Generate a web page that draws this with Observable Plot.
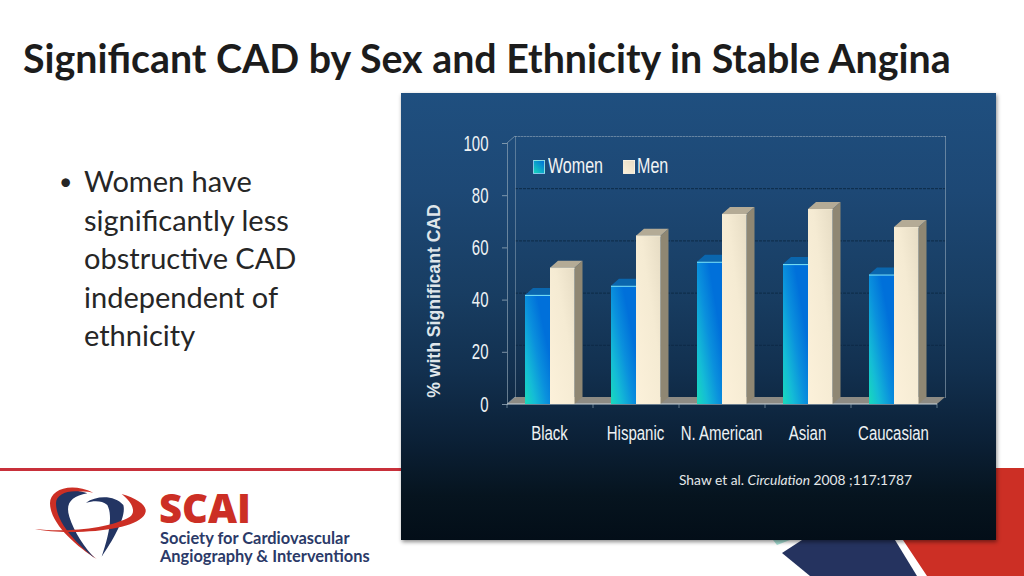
<!DOCTYPE html>
<html><head><meta charset="utf-8">
<script src="https://cdn.jsdelivr.net/npm/d3@7"></script>
<script src="https://cdn.jsdelivr.net/npm/@observablehq/plot@0.6"></script>
<style>
html,body{margin:0;padding:0;background:#fff;width:1024px;height:576px;overflow:hidden;font-family:Lato,"Open Sans",sans-serif}
#slide{position:relative;width:1024px;height:576px;overflow:hidden}
#slide>*{position:absolute}
#title{left:23px;top:35px;font:700 39.35px/46px Lato;color:#1c1c1c;white-space:nowrap}
#bullets{left:59px;top:162px;width:260px;font:400 29px/38.5px Lato;color:#262626}
#bullets .dot{position:absolute;left:0;top:0;font-size:23px}
#bullets .txt{margin-left:25px}
#chart{left:401px;top:93px;width:595px;height:447px;box-shadow:1px 2px 4px rgba(0,0,0,.45)}
#chart svg{display:block}
#decor{left:0;top:0}
.lg{color:#f2f4f4;font:400 22px/24px "Liberation Sans";white-space:nowrap;transform:scaleX(.73);transform-origin:0 0}
.sw{width:10px;height:12px;border:1px solid rgba(255,255,255,.5);box-sizing:content-box}
#cite{left:679px;top:471px;font:400 13.8px/18px Lato;color:#e4e8ea;white-space:nowrap}
</style></head><body>
<div id="slide">
<svg id="decor" width="1024" height="576">
  <rect x="0" y="468" width="401" height="3" fill="#c8303a"/>
  <rect x="996" y="468" width="28" height="3" fill="#c8303a"/>
  <polygon points="996,468 1024,468 1024,576 927,576 903,540 996,540" fill="#cc2f25"/>
  <polygon points="782,553 802,540 895,540 917,576 810,576" fill="#25335f"/>
  <polygon points="773,540 790,540 777,545" fill="#a7e0d5"/>
  <g transform="translate(0,460) scale(.3333)">
    <path d="M150,130C150,90 210,65 280,98C220,85 180,110 195,170C210,220 250,265 290,297C230,260 150,190 150,130Z" fill="#cc2f25"/>
    <path d="M168,130C168,100 215,85 262,100C215,108 195,130 208,170C222,215 255,265 285,295C235,255 168,190 168,130Z" fill="#233563"/>
    <path d="M258,128C290,105 345,105 370,135C380,170 340,240 305,290C325,230 340,170 322,135C305,120 280,122 258,128Z" fill="#233563"/>
    <path d="M105,207C200,218 330,205 390,170C410,155 395,125 365,102C410,115 440,135 437,155C430,190 350,210 250,215C200,218 140,215 105,207Z" fill="#cc2f25"/>
  </g>
  <text x="159" y="523" font-family="Open Sans" font-weight="800" font-size="40" fill="#cc2f25">SCAI</text>
  <text x="160" y="544" font-family="Lato" font-weight="700" font-size="16.4" fill="#2b3a68">Society for Cardiovascular</text>
  <text x="160" y="562" font-family="Lato" font-weight="700" font-size="16.4" fill="#2b3a68">Angiography &amp; Interventions</text>
</svg>
<div id="title">Significant CAD by Sex and Ethnicity in Stable Angina</div>
<div id="bullets"><span class="dot">•</span><div class="txt">Women have<br>significantly less<br>obstructive CAD<br>independent of<br>ethnicity</div></div>
<div id="chart"></div>
<div class="sw" style="left:533px;top:160px;background:linear-gradient(45deg,#17d6bd,#0070d8)"></div>
<div class="lg" style="left:548px;top:154px">Women</div>
<div class="sw" style="left:623px;top:160px;background:linear-gradient(45deg,#fbf0d8,#e6dcc6);border-color:rgba(255,255,255,.3)"></div>
<div class="lg" style="left:637px;top:154px">Men</div>
<div id="cite">Shaw et al. <i>Circulation</i> 2008 ;117:1787</div>
</div>
<script>
const categories = ["Black","Hispanic","N. American","Asian","Caucasian"];
const women = [41.8,45.3,54.5,53.6,49.6];
const men = [52.2,64.5,72.8,74.7,67.8];
const yTicks = [0,20,40,60,80,100];
const yLabel = "% with Significant CAD";

const womenRows = categories.map((c,i)=>({c,v:women[i]}));
const menRows = categories.map((c,i)=>({c,v:men[i]}));
const DX = 8, DY = 7;

const NS = "http://www.w3.org/2000/svg";
function el(name, attrs){const e=document.createElementNS(NS,name);for(const k in attrs)e.setAttribute(k,attrs[k]);return e;}

function defs(){
  const g=el("g",{});
  g.innerHTML=`<defs>
  <linearGradient id="gW" x1="0" y1="1" x2="0.75" y2="0.3">
    <stop offset="0" stop-color="#18dabb"/><stop offset="0.3" stop-color="#14bcd6"/><stop offset="0.65" stop-color="#0a90dd"/><stop offset="1" stop-color="#0070da"/>
  </linearGradient>
  <linearGradient id="gM" x1="0" y1="1" x2="1" y2="0">
    <stop offset="0" stop-color="#fcf1da"/><stop offset="0.6" stop-color="#f5ebd3"/><stop offset="1" stop-color="#e6dcc4"/>
  </linearGradient></defs>`;
  return g;
}

function bar3d(sideFill, topFill, edge){
  return (index,scales,values,dims,ctx,next)=>{
    const g=next(index,scales,values,dims,ctx);
    g.querySelectorAll("rect").forEach(r=>{
      const x=+r.getAttribute("x"),y=+r.getAttribute("y"),w=+r.getAttribute("width"),h=+r.getAttribute("height");
      r.parentNode.insertBefore(el("polygon",{points:`${x+w},${y} ${x+w+DX},${y-DY} ${x+w+DX},${y+h-DY} ${x+w},${y+h}`,fill:sideFill}),r);
      r.parentNode.insertBefore(el("polygon",{points:`${x},${y} ${x+DX},${y-DY} ${x+w+DX},${y-DY} ${x+w},${y}`,fill:topFill}),r);
      if(edge) r.parentNode.appendChild(el("line",{x1:x,y1:y+.5,x2:x+w,y2:y+.5,stroke:edge,"stroke-width":1}));
    });
    return g;
  };
}

function room(index,scales,values,dims){
  const {marginLeft:l,marginTop:t,width,height,marginRight:mr,marginBottom:mb}=dims;
  const r=width-mr,b=height-mb;
  const g=el("g",{});
  g.appendChild(el("polygon",{points:`${l},${b} ${l+DX},${b-DY} ${r+DX},${b-DY} ${r},${b}`,fill:"#8d8b84"}));
  const st={stroke:"#9fb2c0","stroke-width":.8,"stroke-opacity":.75};
  g.appendChild(el("line",{x1:l,y1:t,x2:l+DX,y2:t-DY,...st}));
  g.appendChild(el("line",{x1:l,y1:b,x2:l+DX,y2:b-DY,...st}));
  g.appendChild(el("line",{x1:l,y1:b,x2:r,y2:b,stroke:"#c9d3da","stroke-width":1}));
  [...categories.map(c=>scales.x(c)),r].forEach(x=>g.appendChild(el("line",{x1:x,y1:b,x2:x,y2:b+4,...st})));
  return g;
}

const plot = Plot.plot({
  width:595,height:447,marginLeft:106,marginRight:59,marginTop:50,marginBottom:136,
  style:{background:"linear-gradient(180deg,#1f4f7f 0%,#1d4875 22%,#183d62 45%,#12304f 62%,#0b2036 78%,#06141f 90%,#030e18 100%)",color:"#eef2f4",overflow:"visible"},
  x:{domain:categories,padding:0,label:null},
  y:{domain:[0,100],label:null},
  marks:[
    defs,
    room,
    Plot.ruleY(yTicks.filter(d=>d>0&&d<100),{y:d=>d,dx:DX,dy:-DY,stroke:"#0d2a46",strokeWidth:1,strokeDasharray:"3 1"}),
    Plot.frame({anchor:"top",dx:DX,dy:-DY,stroke:"#9fb2c0",strokeOpacity:.7,strokeWidth:.8,strokeDasharray:"1.5 1.5"}),
    Plot.frame({anchor:"right",dx:DX,dy:-DY,stroke:"#9fb2c0",strokeOpacity:.7,strokeWidth:.8}),
    Plot.frame({anchor:"left",dx:DX,dy:-DY,stroke:"#9fb2c0",strokeOpacity:.6,strokeWidth:.8}),
    Plot.frame({anchor:"left",stroke:"#9fb2c0",strokeOpacity:.75,strokeWidth:.8}),
    Plot.axisY({ticks:yTicks,tickSize:5,tickPadding:14,stroke:"#9fb2c0",strokeOpacity:.75,fontSize:22,fontFamily:"Liberation Sans",label:null,fill:"#eef2f4"}),
    Plot.axisX({tickSize:0,tickPadding:21,dx:-1,fontSize:20,fontFamily:"Liberation Sans",label:null,fill:"#eef2f4"}),
    Plot.text([yLabel],{frameAnchor:"left",textAnchor:"middle",rotate:-90,dx:-73,dy:27,fontSize:17.6,fontWeight:700,fontFamily:"Liberation Sans",fill:"#dfe6ea"}),
    Plot.barY(womenRows,{x:"c",y:"v",insetLeft:18,insetRight:43,fill:"url(#gW)",render:bar3d("#0a5fa8","#0a66ae","#7fe6f7")}),
    Plot.barY(menRows,{x:"c",y:"v",insetLeft:43,insetRight:18.5,fill:"url(#gM)",render:bar3d("#8f8773","#b4ab96","#efe6cf")})
  ]
});
document.getElementById("chart").appendChild(plot);
// Condense the axis labels, which the reference sets in a narrow face.
const condense=(sel,f)=>plot.querySelectorAll(sel).forEach(t=>{
  t.setAttribute("textLength",t.getComputedTextLength()*f);
  t.setAttribute("lengthAdjust","spacingAndGlyphs");
});
condense("g[aria-label='y-axis tick label'] text",.68);
condense("g[aria-label='x-axis tick label'] text",.75);
</script>
</body></html>
